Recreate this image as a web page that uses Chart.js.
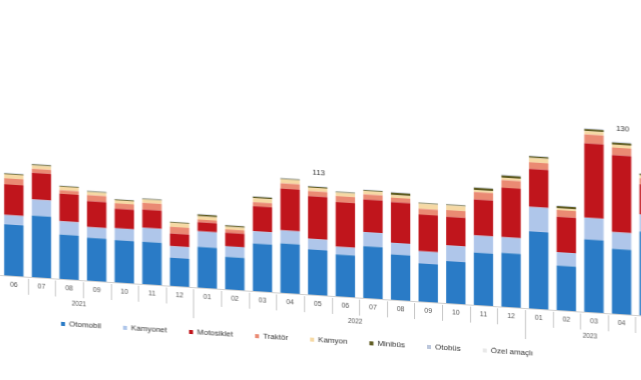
<!DOCTYPE html>
<html>
<head>
<meta charset="utf-8">
<script src="https://cdn.jsdelivr.net/npm/chart.js@4"></script>
<style>
  html, body { margin: 0; padding: 0; background: #fff; overflow: hidden; width: 641px; height: 380px; }
  /* the reference is a slanted shot: horizontal lines drop to the right, verticals stay upright */
  #wrap { position: absolute; left: -69px; top: 0; width: 732px; height: 334px;
          transform: skewY(3.6deg); transform-origin: 69px 0; }
</style>
</head>
<body>
<div id="wrap"><canvas id="c" width="732" height="334"></canvas></div>
<script>
/* ---------- data (thousand vehicles) ---------- */
const months = ["06","07","08","09","10","11","12","01","02","03","04","05",
                "06","07","08","09","10","11","12","01","02","03","04","05"];
const years = ["2021", "2022", "2023"];
const yearFrom = [-1, 7, 19];   // first month index of each year (05/2021 is cut off)
const yearTo = [6, 18, 23];

const otomobil   = [38.3, 46.2, 33.2, 32.1, 31.6, 31.7, 21.0, 30.5, 24.3, 35.6, 37.0, 33.8,
                    31.3, 38.9, 33.9, 28.5, 31.5, 39.1, 40.4, 57.8, 33.4, 54.3, 48.6, 62.9];
const kamyonet   = [7.0, 12.0, 10.0, 8.0, 9.0, 10.5, 8.7, 11.7, 8.0, 9.2, 9.8, 8.0,
                    5.8, 10.5, 8.8, 9.2, 11.8, 13.0, 11.7, 18.3, 10.0, 16.3, 12.5, 12.8];
const motosiklet = [23.0, 20.0, 20.6, 19.5, 14.6, 13.7, 9.5, 6.8, 10.1, 18.8, 31.3, 32.0,
                    33.5, 24.5, 30.5, 27.5, 21.5, 27.0, 37.1, 28.5, 26.6, 55.7, 57.8, 22.5];
const traktor    = [4.5, 3.0, 2.7, 4.5, 4.0, 5.0, 5.0, 2.0, 2.5, 3.0, 4.0, 3.8,
                    4.5, 3.8, 3.3, 4.3, 5.0, 5.5, 5.7, 5.0, 5.0, 6.8, 5.6, 4.5];
const kamyon     = [3.0, 2.5, 2.6, 2.3, 2.3, 2.5, 3.0, 2.5, 2.0, 3.0, 3.0, 2.6,
                    2.6, 2.5, 2.0, 3.8, 3.5, 1.5, 1.8, 3.3, 1.3, 2.5, 2.3, 2.3];
const minibus    = [0.6, 0.8, 0.6, 0.6, 0.6, 0.6, 0.6, 1.3, 1.0, 1.1, 0.6, 0.8,
                    0.6, 0.6, 1.8, 0.6, 0.6, 1.8, 1.7, 1.2, 1.7, 1.5, 1.5, 1.1];
const otobus     = [0.4, 0.4, 0.3, 0.4, 0.3, 0.4, 0.3, 0.3, 0.3, 0.4, 0.4, 0.4,
                    0.4, 0.4, 0.4, 0.3, 0.4, 0.4, 0.5, 0.4, 0.4, 0.5, 0.5, 0.4];
const ozelAmacli = [0.3, 0.3, 0.2, 0.3, 0.2, 0.3, 0.2, 0.2, 0.2, 0.3, 0.3, 0.3,
                    0.3, 0.3, 0.3, 0.2, 0.3, 0.3, 0.3, 0.3, 0.3, 0.4, 0.4, 0.3];

// value labels printed above two bars
const noteIdx = [11, 22];
const noteText = ["113", "130"];

/* ---------- chart ---------- */
Chart.defaults.font.family = '"Liberation Sans", Arial, sans-serif';
Chart.defaults.color = "#444";

const series = [
  ["Otomobil", otomobil, "#2a7bc6"],
  ["Kamyonet", kamyonet, "#afc6ea"],
  ["Motosiklet", motosiklet, "#c0151c"],
  ["Traktör", traktor, "#ea8a73"],
  ["Kamyon", kamyon, "#f6d9a4"],
  ["Minibüs", minibus, "#5f5c22"],
  ["Otobüs", otobus, "#bcc7dc"],
  ["Özel amaçlı", ozelAmacli, "#e8e8e8"]
];

// separators under the axis, year captions and the two value labels
const axisExtras = {
  id: "axisExtras",
  afterDatasetsDraw(chart) {
    const { ctx, scales: { x, y } } = chart;
    const base = chart.chartArea.bottom;
    ctx.save();
    ctx.strokeStyle = "#c6c6c6";
    ctx.lineWidth = 1;
    for (let i = 0; i < months.length; i++) {
      const px = Math.round(x.getPixelForValue(i + 0.5)) + 0.5;
      const long = yearTo.includes(i);
      ctx.beginPath();
      ctx.moveTo(px, base + 2);
      ctx.lineTo(px, base + (long ? 31 : 18));
      ctx.stroke();
    }

    ctx.fillStyle = "#555";
    ctx.font = '6.5px "Liberation Sans", Arial, sans-serif';
    ctx.textAlign = "center";
    ctx.textBaseline = "middle";
    years.forEach((yr, k) => {
      const cx = (x.getPixelForValue(yearFrom[k]) + x.getPixelForValue(yearTo[k])) / 2;
      ctx.fillText(yr, cx - 4, base + 24);
    });

    ctx.fillStyle = "#333";
    ctx.font = '8px "Liberation Sans", Arial, sans-serif';
    noteIdx.forEach((i, k) => {
      const total = series.reduce((s, d) => s + d[1][i], 0);
      ctx.fillText(noteText[k], x.getPixelForValue(i) + 1, y.getPixelForValue(total) - 13);
    });
    ctx.restore();
  }
};

new Chart(document.getElementById("c"), {
  type: "bar",
  data: {
    labels: months,
    datasets: series.map(([label, data, color]) => ({
      label, data, backgroundColor: color, borderWidth: 0,
      barPercentage: 0.7, categoryPercentage: 1
    }))
  },
  options: {
    responsive: false,
    animation: false,
    layout: { padding: { top: 15, left: 0, right: 0, bottom: 0 } },
    plugins: {
      tooltip: { enabled: false },
      legend: {
        position: "bottom",
        labels: { boxWidth: 4, boxHeight: 4, padding: 22, color: "#333", font: { size: 8 } }
      }
    },
    scales: {
      x: {
        stacked: true,
        grid: { display: false, drawTicks: false },
        border: { display: true, color: "#cfcfcf" },
        ticks: { font: { size: 7 }, color: "#555", padding: 5, autoSkip: false, maxRotation: 0 },
        afterFit: s => { s.height = 19; }
      },
      y: {
        stacked: true, min: 0, max: 195,
        grid: { display: false },
        border: { display: false },
        ticks: { display: false },
        afterFit: s => { s.width = 69; }
      }
    }
  },
  plugins: [axisExtras]
});
</script>
</body>
</html>
